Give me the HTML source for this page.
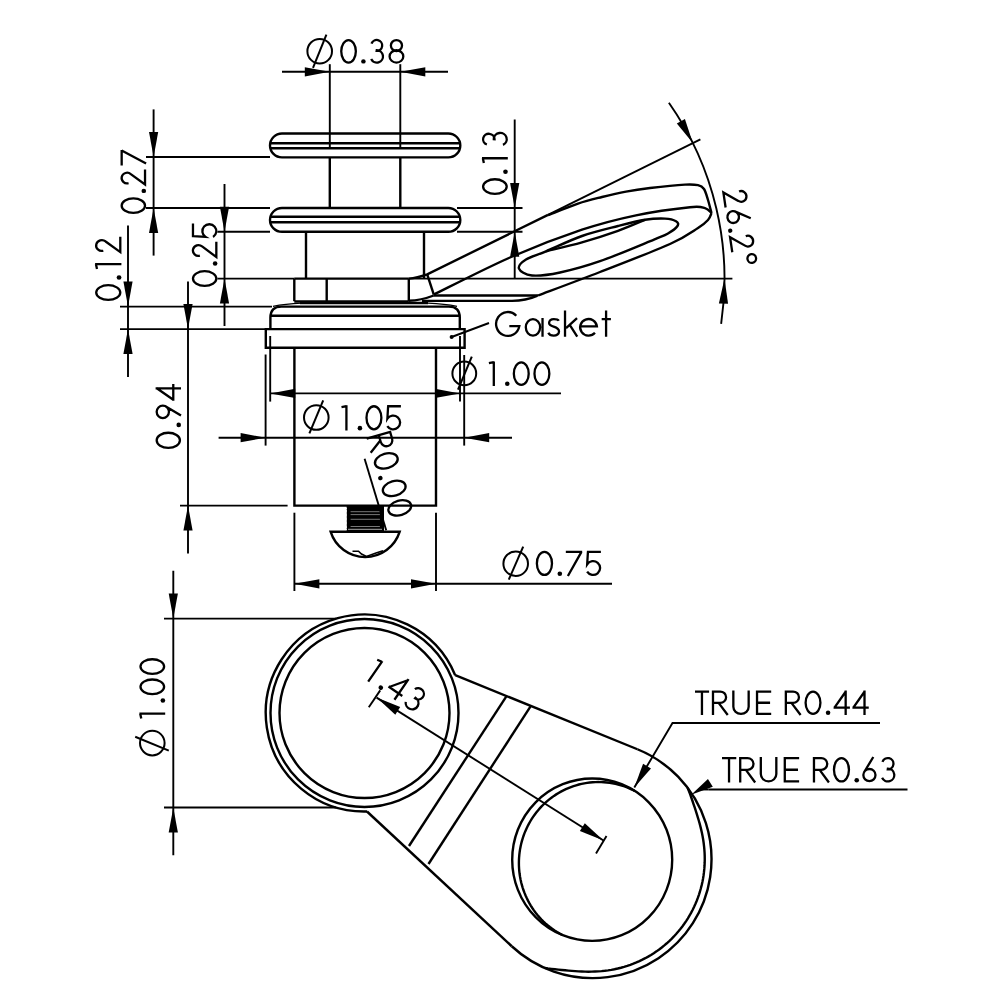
<!DOCTYPE html>
<html><head><meta charset="utf-8"><style>
html,body{margin:0;padding:0;background:#fff;}
svg{display:block;will-change:transform;}
text{font-family:"Liberation Sans",sans-serif;fill:#000;}
</style></head><body>
<svg width="1000" height="1000" viewBox="0 0 1000 1000" stroke="#000" stroke-linecap="butt" fill="none">
<rect x="0" y="0" width="1000" height="1000" fill="#fff" stroke="none"/>

<path d="M 282 133.5 L 448.3 133.5 A 12 11.95 0 0 1 448.3 157.4 L 282 157.4 A 12 11.95 0 0 1 282 133.5 Z" stroke-width="2.4" fill="none"/>
<line x1="270.5" y1="143.2" x2="459.8" y2="143.2" stroke-width="2.4"/>
<line x1="270.5" y1="148.2" x2="459.8" y2="148.2" stroke-width="2.4"/>
<path d="M 282 208 L 448.3 208 A 12 11.9 0 0 1 448.3 231.8 L 282 231.8 A 12 11.9 0 0 1 282 208 Z" stroke-width="2.4" fill="none"/>
<line x1="270.5" y1="216.8" x2="459.8" y2="216.8" stroke-width="2.4"/>
<line x1="270.5" y1="222.3" x2="459.8" y2="222.3" stroke-width="2.4"/>
<line x1="329.8" y1="64.2" x2="329.8" y2="149" stroke-width="1.92"/>
<line x1="400.3" y1="64.2" x2="400.3" y2="149" stroke-width="1.92"/>
<line x1="329.8" y1="157.7" x2="329.8" y2="208" stroke-width="2.4"/>
<line x1="400.3" y1="157.7" x2="400.3" y2="208" stroke-width="2.4"/>
<line x1="306" y1="231.8" x2="306" y2="278.6" stroke-width="2.4"/>
<line x1="424" y1="231.8" x2="424" y2="278.6" stroke-width="2.4"/>
<line x1="217.4" y1="278.6" x2="294.3" y2="278.6" stroke-width="1.9"/>
<line x1="294.3" y1="278.6" x2="408.8" y2="278.6" stroke-width="2.4"/>
<line x1="408.8" y1="278.6" x2="732.4" y2="278.6" stroke-width="1.9"/>
<line x1="294.3" y1="278.6" x2="294.3" y2="301.2" stroke-width="2.4"/>
<line x1="326.7" y1="278.6" x2="326.7" y2="301.2" stroke-width="2.4"/>
<line x1="408.8" y1="278.6" x2="408.8" y2="301.2" stroke-width="2.4"/>
<line x1="294.3" y1="301.5" x2="408.8" y2="301.5" stroke-width="2.4"/>
<line x1="300" y1="303" x2="428" y2="303" stroke-width="2.6"/>
<path d="M 408.8 278.6 Q 417 278 427.2 274.4 L 548 214.8" stroke-width="2.4" fill="none"/>
<line x1="548" y1="214.8" x2="700.4" y2="139.4" stroke-width="1.9"/>
<line x1="427.2" y1="274.4" x2="433.8" y2="294.6" stroke-width="2.4"/>
<path d="M 433.8 294.6 C 446.5 288.42 485.3 268.32 510 257.5 C 534.7 246.68 561 236.73 582 229.7 C 603 222.67 618 219.05 636 215.3 C 654 211.55 678.5 208.38 690 207.2 C 701.5 206.02 701.42 207.23 705 208.2 C 708.58 209.17 710.42 212.2 711.5 213" stroke-width="2.4" fill="none"/>
<path d="M 548 215.2 C 553 213.27 569 206.63 578 203.6 C 587 200.57 594 199 602 197 C 610 195 618 193.1 626 191.6 C 634 190.1 640.17 189.17 650 188 C 659.83 186.83 677 185.07 685 184.6 C 693 184.13 694.83 184.47 698 185.2 C 701.17 185.93 702.33 186.53 704 189 C 705.67 191.47 706.75 196 708 200 C 709.25 204 710.92 210.83 711.5 213" stroke-width="2.4" fill="none"/>
<path d="M 711.5 213 C 710.92 214.17 710.25 217.5 708 220 C 705.75 222.5 704.33 224 698 228 C 691.67 232 686.33 236.67 670 244 C 653.67 251.33 622 263.42 600 272 C 578 280.58 548.33 291.58 538 295.5" stroke-width="2.4" fill="none"/>
<line x1="433.8" y1="295.5" x2="538" y2="295.5" stroke-width="2.4"/>
<path d="M 408.8 300.8 Q 421 300.4 433.8 295.5" stroke-width="2.4" fill="none"/>
<path d="M 422 300.9 L 512 300.9 Q 526 300.6 537 295.8" stroke-width="2.4" fill="none"/>
<path d="M 519 268.6 C 518 265.93 521.5 262.38 526 259.5 C 530.5 256.62 536.67 255.22 546 251.3 C 555.33 247.38 570 240.22 582 236 C 594 231.78 607.5 228.7 618 226 C 628.5 223.3 637.17 221.03 645 219.8 C 652.83 218.57 659.83 218.37 665 218.6 C 670.17 218.83 673.92 219.97 676 221.2 C 678.08 222.43 678.83 223.95 677.5 226 C 676.17 228.05 671.92 231.23 668 233.5 C 664.08 235.77 665.33 234.98 654 239.6 C 642.67 244.22 615.67 255.72 600 261.2 C 584.33 266.68 571.33 270.12 560 272.5 C 548.67 274.88 538.83 276.15 532 275.5 C 525.17 274.85 520 271.27 519 268.6 Z" stroke-width="2.4" fill="none"/>
<path d="M 546 251.3 C 552 249.8 570 245.72 582 242.3 C 594 238.88 607.5 234.55 618 230.8 C 628.5 227.05 640.5 221.63 645 219.8" stroke-width="2.4" fill="none"/>
<path d="M 270.4 329.1 L 270.4 317.6 Q 270.4 306.6 281.4 306.6 L 448.8 306.6 Q 459.8 306.6 459.8 317.6 L 459.8 329.1" stroke-width="2.4" fill="none"/>
<line x1="270.4" y1="315.8" x2="459.8" y2="315.8" stroke-width="2.4"/>
<path d="M 273 306.4 Q 285 304 301.6 303.2" stroke-width="1.2" fill="none"/>
<path d="M 428 303.2 Q 445 304 457 306.4" stroke-width="1.2" fill="none"/>
<path d="M 265.8 329.1 L 464.6 329.1 L 464.6 347.8 L 265.8 347.8 Z" stroke-width="2.4" fill="none"/>
<line x1="270.2" y1="336" x2="270.2" y2="401.6" stroke-width="1.9"/>
<line x1="460" y1="336" x2="460" y2="401.6" stroke-width="1.9"/>
<line x1="265.6" y1="354.5" x2="265.6" y2="445.6" stroke-width="1.9"/>
<line x1="464.2" y1="355" x2="464.2" y2="445.6" stroke-width="1.9"/>
<path d="M 294.4 347.8 L 294.4 505.6 L 436 505.6 L 436 347.8" stroke-width="2.4" fill="none"/>
<polygon points="346.6,505.6 384,505.6 384,531 346.6,531" stroke="none" fill="#000"/>
<line x1="350.6" y1="511.7" x2="379.9" y2="511.7" stroke="#aaa" stroke-width="0.7"/>
<line x1="350.6" y1="514.6" x2="379.9" y2="514.6" stroke="#aaa" stroke-width="0.7"/>
<line x1="350.6" y1="519.3" x2="379.9" y2="519.3" stroke="#aaa" stroke-width="0.7"/>
<line x1="350.6" y1="526.5" x2="379.9" y2="526.5" stroke="#aaa" stroke-width="0.7"/>
<line x1="348" y1="529.4" x2="382" y2="529.4" stroke="#888" stroke-width="1.1"/>
<path d="M 346.6 507.9 L 345.4 509.5 L 346.6 511.1" stroke="#fff" stroke-width="1.2"/>
<path d="M 346.6 511.4 L 345.4 513 L 346.6 514.6" stroke="#fff" stroke-width="1.2"/>
<path d="M 346.6 515.4 L 345.4 517 L 346.6 518.6" stroke="#fff" stroke-width="1.2"/>
<path d="M 346.6 519.4 L 345.4 521 L 346.6 522.6" stroke="#fff" stroke-width="1.2"/>
<path d="M 346.6 523.4 L 345.4 525 L 346.6 526.6" stroke="#fff" stroke-width="1.2"/>
<path d="M 346.6 526.9 L 345.4 528.5 L 346.6 530.1" stroke="#fff" stroke-width="1.2"/>
<path d="M 352.5 551.2 L 358.5 551.2 L 361.5 554 L 366.5 556.5 L 376 553 L 383 550.8" stroke-width="1.6" fill="none"/>
<path d="M 330.6 531.7 L 399.7 531.7 A 36.2 36.2 0 0 1 330.6 531.7 Z" stroke-width="2.4" fill="none"/>
<line x1="282" y1="71.8" x2="448" y2="71.8" stroke-width="1.9"/>
<polygon points="329.8,71.8 304.8,67.2 304.8,76.4" stroke="none" fill="#000"/>
<polygon points="400.3,71.8 425.3,76.4 425.3,67.2" stroke="none" fill="#000"/>
<ellipse cx="319.7" cy="51.2" rx="12.3" ry="12.3" stroke-width="2.0" fill="none"/>
<line x1="326.4" y1="34.6" x2="313" y2="67.8" stroke-width="2.0"/>
<g transform="translate(340.2,63.6) rotate(0) scale(0.9938,0.9840)"><path transform="translate(0.00,0)" d="M 1.05 -12.50 A 7.35 11.45 0 1 1 15.75 -12.50 A 7.35 11.45 0 1 1 1.05 -12.50 Z" fill="none" stroke-width="2.3" vector-effect="non-scaling-stroke"/><path transform="translate(21.10,0)" d="M 0.00 -2.25 A 2.25 2.25 0 1 1 4.50 -2.25 A 2.25 2.25 0 1 1 0.00 -2.25 Z" fill="#000" stroke="none"/><path transform="translate(28.80,0)" d="M 2.68 -20.30 A 5.55 5.55 0 1 1 7.90 -12.85 L 8.00 -13.55 A 6.25 6.25 0 1 1 2.34 -4.66" fill="none" stroke-width="2.3" vector-effect="non-scaling-stroke"/><path transform="translate(48.60,0)" d="M 2.40 -18.35 A 5.60 5.60 0 1 1 13.60 -18.35 A 5.60 5.60 0 1 1 2.40 -18.35 Z M 1.10 -7.30 A 6.90 6.25 0 1 1 14.90 -7.30 A 6.90 6.25 0 1 1 1.10 -7.30 Z" fill="none" stroke-width="2.3" vector-effect="non-scaling-stroke"/></g>
<line x1="146" y1="157" x2="270" y2="157" stroke-width="1.9"/>
<line x1="146" y1="208" x2="270" y2="208" stroke-width="1.9"/>
<line x1="153.6" y1="109.4" x2="153.6" y2="255.6" stroke-width="1.9"/>
<polygon points="153.6,157 158.2,132 149,132" stroke="none" fill="#000"/>
<polygon points="153.6,208 149,233 158.2,233" stroke="none" fill="#000"/>
<g transform="translate(146.1,213.9) rotate(-90) scale(0.9846,1.0200)"><path transform="translate(0.00,0)" d="M 1.05 -12.50 A 7.35 11.45 0 1 1 15.75 -12.50 A 7.35 11.45 0 1 1 1.05 -12.50 Z" fill="none" stroke-width="2.3" vector-effect="non-scaling-stroke"/><path transform="translate(21.10,0)" d="M 0.00 -2.25 A 2.25 2.25 0 1 1 4.50 -2.25 A 2.25 2.25 0 1 1 0.00 -2.25 Z" fill="#000" stroke="none"/><path transform="translate(28.80,0)" d="M 2.38 -17.20 A 5.4 5.4 0 1 1 11.61 -14.99 L 1.05 -1.05 L 16.3 -1.05" fill="none" stroke-width="2.3" vector-effect="non-scaling-stroke"/><path transform="translate(48.70,0)" d="M 0.4 -23.95 L 16.3 -23.95 M 15.6 -23.95 L 2.4 0" fill="none" stroke-width="2.3" vector-effect="non-scaling-stroke"/></g>
<line x1="217.4" y1="231.7" x2="270" y2="231.7" stroke-width="1.9"/>
<line x1="224.5" y1="184" x2="224.5" y2="326" stroke-width="1.9"/>
<polygon points="224.5,231.7 229.1,206.7 219.9,206.7" stroke="none" fill="#000"/>
<polygon points="224.5,278.6 219.9,303.6 229.1,303.6" stroke="none" fill="#000"/>
<g transform="translate(217.4,287) rotate(-90) scale(1.0031,1.0200)"><path transform="translate(0.00,0)" d="M 1.05 -12.50 A 7.35 11.45 0 1 1 15.75 -12.50 A 7.35 11.45 0 1 1 1.05 -12.50 Z" fill="none" stroke-width="2.3" vector-effect="non-scaling-stroke"/><path transform="translate(21.10,0)" d="M 0.00 -2.25 A 2.25 2.25 0 1 1 4.50 -2.25 A 2.25 2.25 0 1 1 0.00 -2.25 Z" fill="#000" stroke="none"/><path transform="translate(28.80,0)" d="M 2.38 -17.20 A 5.4 5.4 0 1 1 11.61 -14.99 L 1.05 -1.05 L 16.3 -1.05" fill="none" stroke-width="2.3" vector-effect="non-scaling-stroke"/><path transform="translate(48.70,0)" d="M 1.0 -23.95 L 14.6 -23.95 M 2.0 -23.95 L 1.26 -11.63 A 6.85 6.85 0 1 1 1.19 -4.27" fill="none" stroke-width="2.3" vector-effect="non-scaling-stroke"/></g>
<line x1="120" y1="306.6" x2="272" y2="306.6" stroke-width="1.9"/>
<line x1="120" y1="329.1" x2="265.8" y2="329.1" stroke-width="1.9"/>
<line x1="128" y1="225.6" x2="128" y2="377" stroke-width="1.9"/>
<polygon points="128,306.6 132.6,281.6 123.4,281.6" stroke="none" fill="#000"/>
<polygon points="128,329.1 123.4,354.1 132.6,354.1" stroke="none" fill="#000"/>
<g transform="translate(121.4,301) rotate(-90) scale(1.0016,1.0520)"><path transform="translate(0.00,0)" d="M 1.05 -12.50 A 7.35 11.45 0 1 1 15.75 -12.50 A 7.35 11.45 0 1 1 1.05 -12.50 Z" fill="none" stroke-width="2.3" vector-effect="non-scaling-stroke"/><path transform="translate(21.10,0)" d="M 0.00 -2.25 A 2.25 2.25 0 1 1 4.50 -2.25 A 2.25 2.25 0 1 1 0.00 -2.25 Z" fill="#000" stroke="none"/><path transform="translate(31.60,0)" d="M 5.15 -25 L 5.15 0 M 0.3 -23.2 L 5.15 -24.2" fill="none" stroke-width="2.3" vector-effect="non-scaling-stroke"/><path transform="translate(47.80,0)" d="M 2.38 -17.20 A 5.4 5.4 0 1 1 11.61 -14.99 L 1.05 -1.05 L 16.3 -1.05" fill="none" stroke-width="2.3" vector-effect="non-scaling-stroke"/></g>
<line x1="180" y1="505.6" x2="287.6" y2="505.6" stroke-width="1.9"/>
<line x1="188" y1="281.6" x2="188" y2="553.6" stroke-width="1.9"/>
<polygon points="188,329.1 192.6,304.1 183.4,304.1" stroke="none" fill="#000"/>
<polygon points="188,505.6 183.4,530.6 192.6,530.6" stroke="none" fill="#000"/>
<g transform="translate(181,449) rotate(-90) scale(1.0317,1.0160)"><path transform="translate(0.00,0)" d="M 1.05 -12.50 A 7.35 11.45 0 1 1 15.75 -12.50 A 7.35 11.45 0 1 1 1.05 -12.50 Z" fill="none" stroke-width="2.3" vector-effect="non-scaling-stroke"/><path transform="translate(21.10,0)" d="M 0.00 -2.25 A 2.25 2.25 0 1 1 4.50 -2.25 A 2.25 2.25 0 1 1 0.00 -2.25 Z" fill="#000" stroke="none"/><path transform="translate(28.80,0)" d="M 1.15 -17.90 A 6.05 6.05 0 1 1 13.25 -17.90 A 6.05 6.05 0 1 1 1.15 -17.90 Z M 12.68 -15.34 L 3.6 0" fill="none" stroke-width="2.3" vector-effect="non-scaling-stroke"/><path transform="translate(46.80,0)" d="M 12 -25 L 12 0 M 0 -7.6 L 16.2 -7.6 M 12.3 -24.2 L 0.9 -7.6" fill="none" stroke-width="2.3" vector-effect="non-scaling-stroke"/></g>
<line x1="457" y1="208" x2="522.5" y2="208" stroke-width="1.9"/>
<line x1="457" y1="231.7" x2="522.5" y2="231.7" stroke-width="1.9"/>
<line x1="514.7" y1="119.5" x2="514.7" y2="278.6" stroke-width="1.9"/>
<polygon points="514.7,208 519.3,183 510.1,183" stroke="none" fill="#000"/>
<polygon points="514.7,231.7 510.1,256.7 519.3,256.7" stroke="none" fill="#000"/>
<g transform="translate(507.8,195) rotate(-90) scale(1.0000,1.0320)"><path transform="translate(0.00,0)" d="M 1.05 -12.50 A 7.35 11.45 0 1 1 15.75 -12.50 A 7.35 11.45 0 1 1 1.05 -12.50 Z" fill="none" stroke-width="2.3" vector-effect="non-scaling-stroke"/><path transform="translate(21.10,0)" d="M 0.00 -2.25 A 2.25 2.25 0 1 1 4.50 -2.25 A 2.25 2.25 0 1 1 0.00 -2.25 Z" fill="#000" stroke="none"/><path transform="translate(31.60,0)" d="M 5.15 -25 L 5.15 0 M 0.3 -23.2 L 5.15 -24.2" fill="none" stroke-width="2.3" vector-effect="non-scaling-stroke"/><path transform="translate(47.80,0)" d="M 2.68 -20.30 A 5.55 5.55 0 1 1 7.90 -12.85 L 8.00 -13.55 A 6.25 6.25 0 1 1 2.34 -4.66" fill="none" stroke-width="2.3" vector-effect="non-scaling-stroke"/></g>
<path d="M 668.89 102.76 A 305.8 305.8 0 0 1 721.14 323.8" stroke-width="1.9" fill="none"/>
<polygon points="692.85,143.11 684.9,118.96 676.82,123.38" stroke="none" fill="#000"/>
<polygon points="724.5,278.6 718.88,303.39 728.07,303.77" stroke="none" fill="#000"/>
<g transform="translate(722.2,191.6) rotate(81.5) scale(0.9961,0.9720)"><path transform="translate(0.00,0)" d="M 2.38 -17.20 A 5.4 5.4 0 1 1 11.61 -14.99 L 1.05 -1.05 L 16.3 -1.05" fill="none" stroke-width="2.3" vector-effect="non-scaling-stroke"/><path transform="translate(19.90,0)" d="M 1.05 -7.30 A 5.95 5.95 0 1 1 12.95 -7.30 A 5.95 5.95 0 1 1 1.05 -7.30 Z M 1.61 -9.81 L 10.8 -25" fill="none" stroke-width="2.3" vector-effect="non-scaling-stroke"/><path transform="translate(37.70,0)" d="M 0.00 -2.25 A 2.25 2.25 0 1 1 4.50 -2.25 A 2.25 2.25 0 1 1 0.00 -2.25 Z" fill="#000" stroke="none"/><path transform="translate(45.40,0)" d="M 2.38 -17.20 A 5.4 5.4 0 1 1 11.61 -14.99 L 1.05 -1.05 L 16.3 -1.05" fill="none" stroke-width="2.3" vector-effect="non-scaling-stroke"/><path transform="translate(65.30,0)" d="M 1.05 -19.90 A 4.45 4.45 0 1 1 9.95 -19.90 A 4.45 4.45 0 1 1 1.05 -19.90 Z" fill="none" stroke-width="2.3" vector-effect="non-scaling-stroke"/></g>
<circle cx="451.6" cy="337" r="2" fill="#000" stroke="none"/>
<line x1="451.6" y1="337" x2="489" y2="323" stroke-width="1.9"/>
<g transform="translate(494.7,336.7) rotate(0) scale(1.0017,1.0200)"><path transform="translate(0.00,0)" d="M 21.54 -20.58 A 11.7 11.7 0 1 0 24.6 -10.4 L 14.6 -10.4" fill="none" stroke-width="2.3" vector-effect="non-scaling-stroke"/><path transform="translate(30.00,0)" d="M 1.05 -9.15 A 7.15 8.10 0 1 1 15.35 -9.15 A 7.15 8.10 0 1 1 1.05 -9.15 Z M 17.75 -18.3 L 17.75 0" fill="none" stroke-width="2.3" vector-effect="non-scaling-stroke"/><path transform="translate(52.50,0)" d="M 11.5 -15.6 C 10.6 -17.1 8.9 -17.25 6.5 -17.25 C 3.6 -17.25 1.8 -15.6 1.8 -13.4 C 1.8 -8.9 11.7 -10.9 11.7 -5.2 C 11.7 -2.6 9.3 -1.05 6.4 -1.05 C 3.8 -1.05 1.9 -2.0 1.05 -3.9" fill="none" stroke-width="2.3" vector-effect="non-scaling-stroke"/><path transform="translate(69.00,0)" d="M 1.2 -25.7 L 1.2 0 M 13.2 -18.3 L 2.25 -8.5 M 5.9 -11.6 L 13.4 0" fill="none" stroke-width="2.3" vector-effect="non-scaling-stroke"/><path transform="translate(84.20,0)" d="M 1.05 -10.2 L 17.85 -10.2 A 8.4 8.1 0 1 0 15.88 -3.94" fill="none" stroke-width="2.3" vector-effect="non-scaling-stroke"/><path transform="translate(106.80,0)" d="M 4.4 -25.7 L 4.4 0 M 0 -17.25 L 9.2 -17.25" fill="none" stroke-width="2.3" vector-effect="non-scaling-stroke"/></g>
<line x1="270.2" y1="393.4" x2="561" y2="393.4" stroke-width="1.9"/>
<polygon points="270.2,393.4 295.2,398 295.2,388.8" stroke="none" fill="#000"/>
<polygon points="460,393.4 435,388.8 435,398" stroke="none" fill="#000"/>
<ellipse cx="464.3" cy="373.4" rx="11.9" ry="11.9" stroke-width="2.0" fill="none"/>
<line x1="471.8" y1="356.6" x2="458" y2="389.6" stroke-width="2.0"/>
<g transform="translate(488.6,386) rotate(0) scale(1.0115,0.9840)"><path transform="translate(0.00,0)" d="M 5.15 -25 L 5.15 0 M 0.3 -23.2 L 5.15 -24.2" fill="none" stroke-width="2.3" vector-effect="non-scaling-stroke"/><path transform="translate(16.20,0)" d="M 0.00 -2.25 A 2.25 2.25 0 1 1 4.50 -2.25 A 2.25 2.25 0 1 1 0.00 -2.25 Z" fill="#000" stroke="none"/><path transform="translate(23.90,0)" d="M 1.05 -12.50 A 7.35 11.45 0 1 1 15.75 -12.50 A 7.35 11.45 0 1 1 1.05 -12.50 Z" fill="none" stroke-width="2.3" vector-effect="non-scaling-stroke"/><path transform="translate(44.30,0)" d="M 1.05 -12.50 A 7.35 11.45 0 1 1 15.75 -12.50 A 7.35 11.45 0 1 1 1.05 -12.50 Z" fill="none" stroke-width="2.3" vector-effect="non-scaling-stroke"/></g>
<line x1="218.6" y1="437.7" x2="512" y2="437.7" stroke-width="1.9"/>
<polygon points="265.6,437.7 240.6,433.1 240.6,442.3" stroke="none" fill="#000"/>
<polygon points="464.2,437.7 489.2,442.3 489.2,433.1" stroke="none" fill="#000"/>
<ellipse cx="316.3" cy="417.5" rx="12.3" ry="12.3" stroke-width="2.0" fill="none"/>
<line x1="323.2" y1="400.4" x2="309.4" y2="433.4" stroke-width="2.0"/>
<g transform="translate(341.2,430.4) rotate(0) scale(1.0135,1.0080)"><path transform="translate(0.00,0)" d="M 5.15 -25 L 5.15 0 M 0.3 -23.2 L 5.15 -24.2" fill="none" stroke-width="2.3" vector-effect="non-scaling-stroke"/><path transform="translate(16.20,0)" d="M 0.00 -2.25 A 2.25 2.25 0 1 1 4.50 -2.25 A 2.25 2.25 0 1 1 0.00 -2.25 Z" fill="#000" stroke="none"/><path transform="translate(23.90,0)" d="M 1.05 -12.50 A 7.35 11.45 0 1 1 15.75 -12.50 A 7.35 11.45 0 1 1 1.05 -12.50 Z" fill="none" stroke-width="2.3" vector-effect="non-scaling-stroke"/><path transform="translate(44.30,0)" d="M 1.0 -23.95 L 14.6 -23.95 M 2.0 -23.95 L 1.26 -11.63 A 6.85 6.85 0 1 1 1.19 -4.27" fill="none" stroke-width="2.3" vector-effect="non-scaling-stroke"/></g>
<line x1="364.6" y1="458.7" x2="386.2" y2="530.2" stroke-width="1.9"/>
<g transform="translate(366.4,437.7) rotate(74) scale(0.9930,1.0200)"><path transform="translate(0.00,0)" d="M 1.05 -25 L 1.05 0 M 1.05 -23.95 L 8.2 -23.95 A 5.85 5.8 0 0 1 8.2 -12.35 L 1.05 -12.35 M 6.6 -12.35 L 15.7 0" fill="none" stroke-width="2.3" vector-effect="non-scaling-stroke"/><path transform="translate(19.60,0)" d="M 1.05 -12.50 A 7.35 11.45 0 1 1 15.75 -12.50 A 7.35 11.45 0 1 1 1.05 -12.50 Z" fill="none" stroke-width="2.3" vector-effect="non-scaling-stroke"/><path transform="translate(40.70,0)" d="M 0.00 -2.25 A 2.25 2.25 0 1 1 4.50 -2.25 A 2.25 2.25 0 1 1 0.00 -2.25 Z" fill="#000" stroke="none"/><path transform="translate(48.40,0)" d="M 1.05 -12.50 A 7.35 11.45 0 1 1 15.75 -12.50 A 7.35 11.45 0 1 1 1.05 -12.50 Z" fill="none" stroke-width="2.3" vector-effect="non-scaling-stroke"/><path transform="translate(68.80,0)" d="M 1.05 -12.50 A 7.35 11.45 0 1 1 15.75 -12.50 A 7.35 11.45 0 1 1 1.05 -12.50 Z" fill="none" stroke-width="2.3" vector-effect="non-scaling-stroke"/></g>
<line x1="294.4" y1="512.7" x2="294.4" y2="591" stroke-width="1.9"/>
<line x1="436" y1="512.7" x2="436" y2="591" stroke-width="1.9"/>
<line x1="294.4" y1="583.8" x2="612" y2="583.8" stroke-width="1.9"/>
<polygon points="294.4,583.8 319.4,588.4 319.4,579.2" stroke="none" fill="#000"/>
<polygon points="436,583.8 411,579.2 411,588.4" stroke="none" fill="#000"/>
<ellipse cx="515.7" cy="563.7" rx="12.3" ry="12.3" stroke-width="2.0" fill="none"/>
<line x1="523.2" y1="546.6" x2="508.8" y2="579.6" stroke-width="2.0"/>
<g transform="translate(535.8,576) rotate(0) scale(1.0283,1.0080)"><path transform="translate(0.00,0)" d="M 1.05 -12.50 A 7.35 11.45 0 1 1 15.75 -12.50 A 7.35 11.45 0 1 1 1.05 -12.50 Z" fill="none" stroke-width="2.3" vector-effect="non-scaling-stroke"/><path transform="translate(21.10,0)" d="M 0.00 -2.25 A 2.25 2.25 0 1 1 4.50 -2.25 A 2.25 2.25 0 1 1 0.00 -2.25 Z" fill="#000" stroke="none"/><path transform="translate(28.80,0)" d="M 0.4 -23.95 L 16.3 -23.95 M 15.6 -23.95 L 2.4 0" fill="none" stroke-width="2.3" vector-effect="non-scaling-stroke"/><path transform="translate(48.70,0)" d="M 1.0 -23.95 L 14.6 -23.95 M 2.0 -23.95 L 1.26 -11.63 A 6.85 6.85 0 1 1 1.19 -4.27" fill="none" stroke-width="2.3" vector-effect="non-scaling-stroke"/></g>
<path d="M 455.2 675.2 A 98.5 98.5 0 1 0 367 811.5" stroke-width="2.4" fill="none"/>
<circle cx="364.5" cy="713" r="94" stroke-width="2.4" fill="none"/>
<circle cx="364.5" cy="713" r="85" stroke-width="2.4" fill="none"/>
<line x1="455.2" y1="675.2" x2="637.42" y2="749.24" stroke-width="2.4"/>
<line x1="367" y1="811.5" x2="511.75" y2="946.25" stroke-width="2.4"/>
<path d="M 637.42 749.24 A 118.8 118.8 0 1 1 511.75 946.25" stroke-width="2.4" fill="none"/>
<path d="M 687.58 787.8 L 688.92 791.12 L 690.17 794.43 L 691.36 797.73 L 692.5 801.01 L 693.6 804.26 L 694.68 807.49 L 695.73 810.7 L 696.75 813.89 L 697.74 817.07 L 698.69 820.26 L 699.6 823.44 L 700.44 826.63 L 701.23 829.84 L 701.95 833.05 L 702.59 836.28 L 703.16 839.51 L 703.64 842.76 L 704.04 846.02 L 704.35 849.29 L 704.57 852.57 L 704.71 855.85 L 704.75 859.13 L 704.69 862.41 L 704.55 865.68 L 704.3 868.96 L 703.97 872.22 L 703.54 875.47 L 703.02 878.71 L 702.4 881.93 L 701.69 885.13 L 700.88 888.31 L 699.99 891.46 L 699 894.59 L 697.92 897.69 L 696.75 900.75 L 695.49 903.78 L 694.14 906.77 L 692.71 909.72 L 691.19 912.63 L 689.59 915.49 L 687.9 918.3 L 686.13 921.06 L 684.28 923.77 L 682.36 926.43 L 680.35 929.02 L 678.27 931.56 L 676.12 934.03 L 673.9 936.44 L 671.6 938.79 L 669.24 941.06 L 666.82 943.27 L 664.33 945.4 L 661.77 947.46 L 659.16 949.45 L 656.5 951.36 L 653.77 953.19 L 651 954.93 L 648.17 956.6 L 645.3 958.18 L 642.38 959.68 L 639.43 961.1 L 636.43 962.42 L 633.39 963.66 L 630.32 964.81 L 627.21 965.87 L 624.08 966.84 L 620.92 967.72 L 617.74 968.51 L 614.53 969.21 L 611.31 969.82 L 608.06 970.34 L 604.81 970.77 L 601.54 971.12 L 598.27 971.38 L 594.99 971.55 L 591.7 971.65 L 588.4 971.68 L 585.11 971.63 L 581.81 971.52 L 578.5 971.36 L 575.18 971.15 L 571.86 970.9 L 568.52 970.62 L 565.16 970.32 L 561.77 969.99 L 558.35 969.65 L 554.9 969.28 L 551.42 968.86 L 547.91 968.39 L 544.38 967.83" stroke-width="2.4" fill="none"/>
<ellipse cx="592.2" cy="859.7" rx="80" ry="81.2" stroke-width="2.4" fill="none"/>
<path d="M 562.23 934.99 L 559.63 933.58 L 557.08 932.07 L 554.6 930.48 L 552.19 928.8 L 549.85 927.04 L 547.58 925.2 L 545.39 923.28 L 543.27 921.29 L 541.24 919.23 L 539.28 917.11 L 537.41 914.92 L 535.62 912.66 L 533.92 910.36 L 532.3 908 L 530.77 905.59 L 529.34 903.13 L 527.99 900.63 L 526.74 898.1 L 525.57 895.52 L 524.5 892.92 L 523.52 890.28 L 522.64 887.62 L 521.85 884.93 L 521.15 882.23 L 520.55 879.51 L 520.04 876.78 L 519.63 874.04 L 519.3 871.29 L 519.08 868.53 L 518.94 865.78 L 518.9 863.03 L 518.94 860.28 L 519.08 857.54 L 519.31 854.81 L 519.63 852.09 L 520.04 849.39 L 520.54 846.71 L 521.13 844.05 L 521.8 841.41 L 522.56 838.8 L 523.4 836.22 L 524.33 833.67 L 525.34 831.16 L 526.43 828.68 L 527.6 826.24 L 528.85 823.84 L 530.19 821.49 L 531.59 819.18 L 533.08 816.92 L 534.63 814.71 L 536.27 812.55 L 537.97 810.45 L 539.74 808.41 L 541.58 806.42 L 543.49 804.5 L 545.46 802.64 L 547.5 800.85 L 549.6 799.12 L 551.76 797.47 L 553.98 795.89 L 556.25 794.38 L 558.58 792.96 L 560.95 791.61 L 563.38 790.34 L 565.86 789.15 L 568.38 788.05 L 570.94 787.04 L 573.54 786.11 L 576.18 785.28 L 578.86 784.53 L 581.56 783.88 L 584.3 783.33 L 587.06 782.87 L 589.84 782.51 L 592.64 782.25 L 595.46 782.09 L 598.29 782.03 L 601.13 782.08 L 603.98 782.23 L 606.83 782.48 L 609.67 782.84 L 612.52 783.3 L 615.35 783.87 L 618.17 784.55 L 620.97 785.33 L 623.75 786.22 L 626.51 787.22 L 629.24 788.32 L 631.94 789.53 L 634.59 790.84" stroke-width="2.4" fill="none"/>
<line x1="506.2" y1="696.6" x2="409" y2="846" stroke-width="2.4"/>
<line x1="530.4" y1="706.7" x2="428.5" y2="864" stroke-width="2.4"/>
<line x1="164" y1="618.6" x2="336" y2="618.6" stroke-width="1.9"/>
<line x1="164" y1="807.5" x2="336" y2="807.5" stroke-width="1.9"/>
<line x1="173.3" y1="570.8" x2="173.3" y2="855.2" stroke-width="1.9"/>
<polygon points="173.3,618.6 177.9,593.6 168.7,593.6" stroke="none" fill="#000"/>
<polygon points="173.3,807.5 168.7,832.5 177.9,832.5" stroke="none" fill="#000"/>
<ellipse cx="152.3" cy="743.1" rx="12.3" ry="12.3" stroke-width="2.0" fill="none"/>
<line x1="135.2" y1="736.8" x2="168.8" y2="750.6" stroke-width="2.0"/>
<g transform="translate(165.2,718.8) rotate(-90) scale(0.9918,1.0320)"><path transform="translate(0.00,0)" d="M 5.15 -25 L 5.15 0 M 0.3 -23.2 L 5.15 -24.2" fill="none" stroke-width="2.3" vector-effect="non-scaling-stroke"/><path transform="translate(16.20,0)" d="M 0.00 -2.25 A 2.25 2.25 0 1 1 4.50 -2.25 A 2.25 2.25 0 1 1 0.00 -2.25 Z" fill="#000" stroke="none"/><path transform="translate(23.90,0)" d="M 1.05 -12.50 A 7.35 11.45 0 1 1 15.75 -12.50 A 7.35 11.45 0 1 1 1.05 -12.50 Z" fill="none" stroke-width="2.3" vector-effect="non-scaling-stroke"/><path transform="translate(44.30,0)" d="M 1.05 -12.50 A 7.35 11.45 0 1 1 15.75 -12.50 A 7.35 11.45 0 1 1 1.05 -12.50 Z" fill="none" stroke-width="2.3" vector-effect="non-scaling-stroke"/></g>
<line x1="376.6" y1="697.6" x2="603.5" y2="840.5" stroke-width="1.9"/>
<polygon points="376.6,697.6 395.3,714.82 400.21,707.03" stroke="none" fill="#000"/>
<polygon points="603.5,840.5 584.8,823.28 579.89,831.07" stroke="none" fill="#000"/>
<line x1="368.8" y1="707.2" x2="380.2" y2="690.4" stroke-width="1.9"/>
<line x1="596" y1="853.4" x2="606.5" y2="836" stroke-width="1.9"/>
<g transform="translate(363.8,678.7) rotate(34.5) scale(1.0351,1.0000)"><path transform="translate(0.00,0)" d="M 5.15 -25 L 5.15 0 M 0.3 -23.2 L 5.15 -24.2" fill="none" stroke-width="2.3" vector-effect="non-scaling-stroke"/><path transform="translate(16.20,0)" d="M 0.00 -2.25 A 2.25 2.25 0 1 1 4.50 -2.25 A 2.25 2.25 0 1 1 0.00 -2.25 Z" fill="#000" stroke="none"/><path transform="translate(23.90,0)" d="M 12 -25 L 12 0 M 0 -7.6 L 16.2 -7.6 M 12.3 -24.2 L 0.9 -7.6" fill="none" stroke-width="2.3" vector-effect="non-scaling-stroke"/><path transform="translate(43.70,0)" d="M 2.68 -20.30 A 5.55 5.55 0 1 1 7.90 -12.85 L 8.00 -13.55 A 6.25 6.25 0 1 1 2.34 -4.66" fill="none" stroke-width="2.3" vector-effect="non-scaling-stroke"/></g>
<g transform="translate(695,715) rotate(0) scale(1.0078,0.9800)"><path transform="translate(0.00,0)" d="M 0 -23.95 L 14 -23.95 M 6.9 -23.95 L 6.9 0" fill="none" stroke-width="2.3" vector-effect="non-scaling-stroke"/><path transform="translate(16.80,0)" d="M 1.05 -25 L 1.05 0 M 1.05 -23.95 L 8.2 -23.95 A 5.85 5.8 0 0 1 8.2 -12.35 L 1.05 -12.35 M 6.6 -12.35 L 15.7 0" fill="none" stroke-width="2.3" vector-effect="non-scaling-stroke"/><path transform="translate(37.00,0)" d="M 1.05 -25 L 1.05 -8.3 A 7.6 7.25 0 0 0 16.25 -8.3 L 16.25 -25" fill="none" stroke-width="2.3" vector-effect="non-scaling-stroke"/><path transform="translate(60.50,0)" d="M 1.05 -25 L 1.05 0 M 1.05 -23.95 L 15.1 -23.95 M 1.05 -12.5 L 14 -12.5 M 1.05 -1.05 L 15.1 -1.05" fill="none" stroke-width="2.3" vector-effect="non-scaling-stroke"/><path transform="translate(89.10,0)" d="M 1.05 -25 L 1.05 0 M 1.05 -23.95 L 8.2 -23.95 A 5.85 5.8 0 0 1 8.2 -12.35 L 1.05 -12.35 M 6.6 -12.35 L 15.7 0" fill="none" stroke-width="2.3" vector-effect="non-scaling-stroke"/><path transform="translate(108.70,0)" d="M 1.05 -12.50 A 7.35 11.45 0 1 1 15.75 -12.50 A 7.35 11.45 0 1 1 1.05 -12.50 Z" fill="none" stroke-width="2.3" vector-effect="non-scaling-stroke"/><path transform="translate(129.80,0)" d="M 0.00 -2.25 A 2.25 2.25 0 1 1 4.50 -2.25 A 2.25 2.25 0 1 1 0.00 -2.25 Z" fill="#000" stroke="none"/><path transform="translate(137.50,0)" d="M 12 -25 L 12 0 M 0 -7.6 L 16.2 -7.6 M 12.3 -24.2 L 0.9 -7.6" fill="none" stroke-width="2.3" vector-effect="non-scaling-stroke"/><path transform="translate(156.20,0)" d="M 12 -25 L 12 0 M 0 -7.6 L 16.2 -7.6 M 12.3 -24.2 L 0.9 -7.6" fill="none" stroke-width="2.3" vector-effect="non-scaling-stroke"/></g>
<path d="M 880 723 L 672.5 723 L 634.3 787.6" stroke-width="1.9" fill="none"/>
<polygon points="634.3,787.6 650.98,768.42 643.07,763.74" stroke="none" fill="#000"/>
<g transform="translate(722,782.5) rotate(0) scale(1.0202,1.0200)"><path transform="translate(0.00,0)" d="M 0 -23.95 L 14 -23.95 M 6.9 -23.95 L 6.9 0" fill="none" stroke-width="2.3" vector-effect="non-scaling-stroke"/><path transform="translate(16.80,0)" d="M 1.05 -25 L 1.05 0 M 1.05 -23.95 L 8.2 -23.95 A 5.85 5.8 0 0 1 8.2 -12.35 L 1.05 -12.35 M 6.6 -12.35 L 15.7 0" fill="none" stroke-width="2.3" vector-effect="non-scaling-stroke"/><path transform="translate(37.00,0)" d="M 1.05 -25 L 1.05 -8.3 A 7.6 7.25 0 0 0 16.25 -8.3 L 16.25 -25" fill="none" stroke-width="2.3" vector-effect="non-scaling-stroke"/><path transform="translate(60.50,0)" d="M 1.05 -25 L 1.05 0 M 1.05 -23.95 L 15.1 -23.95 M 1.05 -12.5 L 14 -12.5 M 1.05 -1.05 L 15.1 -1.05" fill="none" stroke-width="2.3" vector-effect="non-scaling-stroke"/><path transform="translate(89.10,0)" d="M 1.05 -25 L 1.05 0 M 1.05 -23.95 L 8.2 -23.95 A 5.85 5.8 0 0 1 8.2 -12.35 L 1.05 -12.35 M 6.6 -12.35 L 15.7 0" fill="none" stroke-width="2.3" vector-effect="non-scaling-stroke"/><path transform="translate(108.70,0)" d="M 1.05 -12.50 A 7.35 11.45 0 1 1 15.75 -12.50 A 7.35 11.45 0 1 1 1.05 -12.50 Z" fill="none" stroke-width="2.3" vector-effect="non-scaling-stroke"/><path transform="translate(129.80,0)" d="M 0.00 -2.25 A 2.25 2.25 0 1 1 4.50 -2.25 A 2.25 2.25 0 1 1 0.00 -2.25 Z" fill="#000" stroke="none"/><path transform="translate(137.50,0)" d="M 1.05 -7.30 A 5.95 5.95 0 1 1 12.95 -7.30 A 5.95 5.95 0 1 1 1.05 -7.30 Z M 1.61 -9.81 L 10.8 -25" fill="none" stroke-width="2.3" vector-effect="non-scaling-stroke"/><path transform="translate(154.60,0)" d="M 2.68 -20.30 A 5.55 5.55 0 1 1 7.90 -12.85 L 8.00 -13.55 A 6.25 6.25 0 1 1 2.34 -4.66" fill="none" stroke-width="2.3" vector-effect="non-scaling-stroke"/></g>
<line x1="708.75" y1="789.5" x2="907.5" y2="789.5" stroke-width="1.9"/>
<path d="M 708.75 789.5 L 700 789.5" stroke-width="1.9" fill="none"/>
<polygon points="691.2,794.8 712.8,786.72 707.93,778.92" stroke="none" fill="#000"/>
</svg>
</body></html>
